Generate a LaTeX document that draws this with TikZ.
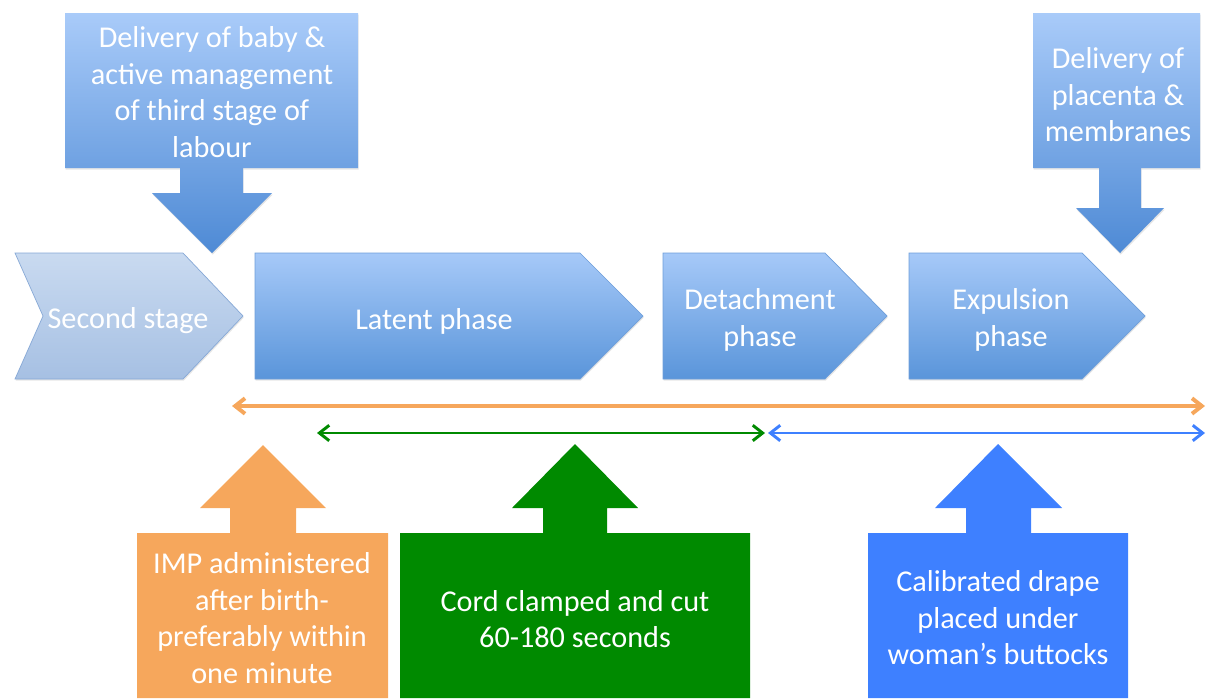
\documentclass[tikz,border=0pt]{standalone}
\usepackage{fontspec}
\setmainfont{Carlito}
\usetikzlibrary{arrows.meta,shadows}
\definecolor{phasetop}{HTML}{A6C9F8}
\definecolor{phasebot}{HTML}{5A95DA}
\definecolor{phaseedge}{HTML}{6E9ED9}
\definecolor{sectop}{HTML}{C9DAF0}
\definecolor{secbot}{HTML}{A6C0E3}
\definecolor{secedge}{HTML}{86A8D6}
\definecolor{calltop}{HTML}{A9CBF9}
\definecolor{callbot}{HTML}{4E8AD5}
\definecolor{impcol}{HTML}{F6A75C}
\definecolor{cordcol}{HTML}{008A00}
\definecolor{drapecol}{HTML}{3E80FF}

\begin{document}
\begin{tikzpicture}[x=0.025cm, y=-0.025cm,
  lbl/.style={text=white, align=center, inner sep=0pt,
    font=\fontsize{21.5}{26}\selectfont},
  phaseshape/.style={draw=phaseedge, line width=0.5pt,
    top color=phasetop, bottom color=phasebot,
    drop shadow={opacity=0.2, shadow xshift=0.5pt, shadow yshift=-1.2pt}},
  secshape/.style={phaseshape, draw=secedge, top color=sectop, bottom color=secbot},
  callshape/.style={phaseshape, draw=none, top color=calltop, bottom color=callbot},
  span/.style={line width=#1, {Straight Barb[length=7pt,width=11pt]}-{Straight Barb[length=7pt,width=11pt]}}]
  \useasboundingbox (0,0) rectangle (1208,698);

  % phase arrows
  \path[secshape] (15,253) -- (183,253) -- (243,316) -- (183,379) -- (15,379) -- (43,316) -- cycle;
  \path[phaseshape] (255,253) -- (580,253) -- (643,316) -- (580,379) -- (255,379) -- cycle;
  \path[phaseshape] (663,253) -- (825,253) -- (887,316) -- (825,379) -- (663,379) -- cycle;
  \path[phaseshape] (909,253) -- (1082,253) -- (1145,316) -- (1082,379) -- (909,379) -- cycle;
  \node[lbl] (second) at (128,321) {Second stage};
  \node[lbl] (latent) at (434,321) {Latent phase};
  \node[lbl] (detach) at (760,320) {Detachment\\phase};
  \node[lbl] (expel) at (1011,320) {Expulsion\\phase};

  % callouts from above
  \path[callshape] (65,13) -- (358,13) -- (358,168) -- (243,168) -- (243,193) -- (272,193)
    -- (212,253) -- (152,193) -- (180,193) -- (180,168) -- (65,168) -- cycle;
  \path[callshape] (1033,13) -- (1200,13) -- (1200,168) -- (1141,168) -- (1141,208) -- (1164,208)
    -- (1120,253) -- (1076,208) -- (1099,208) -- (1099,168) -- (1033,168) -- cycle;
  \node[lbl] (baby) at (212,92) {Delivery of baby \&\\active management\\of third stage of\\labour};
  \node[lbl] (placenta) at (1118,95) {Delivery of\\placenta \&\\membranes};

  % time spans
  \coordinate (allL) at (232,406);
  \coordinate (allR) at (1205,406);
  \coordinate (cordL) at (317,433);
  \coordinate (cordR) at (765,433);
  \coordinate (drapeL) at (768,433);
  \coordinate (drapeR) at (1205,433);
  \draw[span=2.8pt, impcol] (allL) -- (allR);
  \draw[span=2.1pt, cordcol] (cordL) -- (cordR);
  \draw[span=2.1pt, drapecol] (drapeL) -- (drapeR);

  % callouts from below
  \fill[impcol] (137,698) -- (137,533) -- (230,533) -- (230,508) -- (200,508) -- (263,445)
    -- (326,508) -- (296,508) -- (296,533) -- (388,533) -- (388,698) -- cycle;
  \fill[cordcol] (400,698) -- (400,533) -- (543,533) -- (543,508) -- (512,508) -- (575,444)
    -- (638,508) -- (607,508) -- (607,533) -- (750,533) -- (750,698) -- cycle;
  \fill[drapecol] (868,698) -- (868,533) -- (966,533) -- (966,508) -- (935,508) -- (998,444)
    -- (1062,508) -- (1031,508) -- (1031,533) -- (1128,533) -- (1128,698) -- cycle;
  \node[lbl] (imp) at (262,618) {IMP administered\\after birth-\\preferably within\\one minute};
  \node[lbl] (cord) at (575,619) {Cord clamped and cut\\60-180 seconds};
  \node[lbl] (drape) at (998,618) {Calibrated drape\\placed under\\woman’s buttocks};
\end{tikzpicture}
\end{document}
